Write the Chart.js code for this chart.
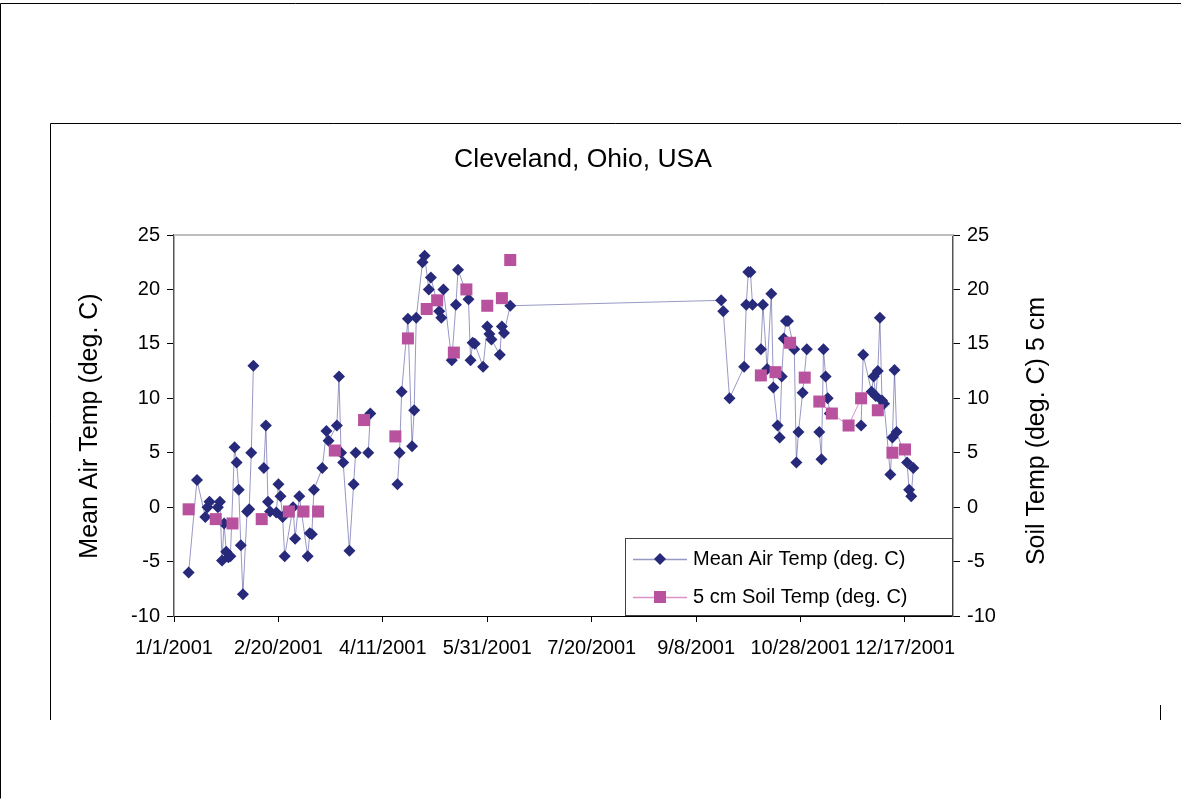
<!DOCTYPE html>
<html>
<head>
<meta charset="utf-8">
<script src="https://cdn.jsdelivr.net/npm/chart.js@4.4.1/dist/chart.umd.min.js"></script>
<style>
  html, body { margin: 0; padding: 0; background: #fff; }
  #wrap { width: 1181px; height: 799px; position: relative; }
  canvas { display: block; }
</style>
</head>
<body>
<div id="wrap"><canvas id="c" width="1181" height="799"></canvas></div>
<script>
// ---- Data (dates in 2001, M/D) ----
const chartTitle = 'Cleveland, Ohio, USA';
const airLabel = 'Mean Air Temp (deg. C)';
const soilLabel = '5 cm Soil Temp (deg. C)';
const leftAxisTitle = 'Mean Air Temp (deg. C)';
const rightAxisTitle = 'Soil Temp (deg. C) 5 cm';

// null = blank cell (line break)
const airDates = [
  '1/8','1/12','1/16','1/17','1/18','1/22','1/23','1/24','1/25','1/26','1/27','1/28',
  '1/30','1/31','2/1','2/2','2/3','2/5','2/6','2/7','2/8','2/10',
  '2/13','2/14','2/15','2/16','2/19','2/20','2/21','2/22','2/23','2/27','2/28','3/2',
  '3/6','3/7','3/8','3/9','3/13','3/15','3/16','3/20','3/21','3/22','3/23','3/26',
  '3/28','3/29','4/1','4/4','4/5','4/10',
  '4/18','4/19','4/20','4/23','4/25','4/26','4/27','4/30','5/1','5/3','5/4','5/8',
  '5/9','5/10','5/14','5/16','5/17','5/22','5/23','5/24','5/25','5/29','5/31','6/1',
  '6/2','6/6','6/7','6/8','6/11',
  '9/20','9/21','9/24','10/1','10/2','10/3','10/4','10/5','10/7',
  '10/9','10/10','10/12','10/14','10/15','10/17','10/18','10/19','10/20','10/21','10/22',
  '10/25','10/26','10/27','10/29','10/31','11/3',
  '11/6','11/7','11/8','11/9','11/10','11/11','11/20',
  '11/26','11/27','12/1','12/2','12/3','12/4','12/5','12/6','12/7','12/10','12/11',
  '12/12','12/13','12/18','12/19','12/20','12/21'
];
const airTemp = [
  -6.0, 2.5, -0.9, 0.0, 0.5, 0.0, 0.5, -4.9, -1.5, -4.1, -4.6, -4.5,
  5.5, 4.1, 1.6, -3.5, -8.0, -0.4, -0.2, 5.0, 13.0, null,
  3.6, 7.5, 0.5, -0.4, -0.5, 2.1, 1.0, -0.9, -4.5, 0.0, -2.9, 1.0,
  -4.5, -2.4, -2.5, 1.6, 3.6, 7.0, 6.1, 7.5, 12.0, 5.0, 4.1, -4.0,
  2.1, 5.0, null, 5.0, 8.6, null,
  2.1, 5.0, 10.6, 17.3, 5.6, 8.9, 17.4, 22.5, 23.1, 20.0, 21.1, 18.0,
  17.4, 20.0, 13.5, 18.6, 21.8, 19.1, 13.5, 15.1, 15.0, 12.9, 16.6, 15.9,
  15.4, 14.0, 16.6, 16.0, 18.5,
  19.0, 18.0, 10.0, 12.9, 18.6, 21.6, 21.6, 18.6, null,
  14.5, 18.6, 12.7, 19.6, 11.0, 7.5, 6.4, 12.0, 15.5, 17.1, 17.1,
  14.5, 4.1, 6.9, 10.5, 14.5, null,
  6.9, 4.4, 14.5, 12.0, 10.0, 8.6, null,
  7.5, 14.0, 10.6, 12.0, 10.2, 12.5, 17.4, 9.8, 9.5, 3.0, 6.4,
  12.6, 6.9, 4.1, 1.6, 1.0, 3.6
];

const soilDates = [
  '1/8','1/14','1/21','1/25','1/29','2/5','2/12','2/20','2/25','3/1','3/4','3/8','3/11',
  '3/15','3/19','3/25','4/2','4/10','4/17','4/20','4/23','4/27','5/2','5/4','5/7','5/10',
  '5/15','5/18','5/21','5/25','5/31','6/4','6/7','6/9','6/11','8/1',
  '10/9','10/12','10/16','10/20','10/23','10/26','10/30','11/3','11/6','11/12','11/20',
  '11/26','12/1','12/4','12/7','12/11','12/14','12/17'
];
const soilTemp = [
  -0.2, null, -1.1, null, -1.5, null, -1.1, null, -0.4, null, -0.4, null, -0.4,
  null, 5.2, null, 8.0, null, 6.5, null, 15.5, null, 18.2, null, 19.0, null,
  14.2, null, 20.0, null, 18.5, null, 19.2, null, 22.7, null,
  12.1, null, 12.4, null, 15.1, null, 11.9, null, 9.7, 8.6, 7.5,
  10.0, null, 8.9, null, 5.0, null, 5.3
];

const xTickDays = [0, 50, 100, 150, 200, 250, 300, 350];
const yTicks = [-10, -5, 0, 5, 10, 15, 20, 25];

// ---- helpers ----
const BASE = Date.UTC(2001, 0, 1);
function dayOf(md) {
  const [m, d] = md.split('/').map(Number);
  return (Date.UTC(2001, m - 1, d) - BASE) / 86400000;
}
function labelOf(day) {
  const dt = new Date(BASE + day * 86400000);
  return (dt.getUTCMonth() + 1) + '/' + dt.getUTCDate() + '/' + dt.getUTCFullYear();
}
const airPoints = airDates.map((d, i) => ({ x: dayOf(d), y: airTemp[i] }));
const soilPoints = soilDates.map((d, i) => ({ x: dayOf(d), y: soilTemp[i] }));

const FONT = '"Liberation Sans", Arial, sans-serif';
const AIR_MARK = '#27297a';
const AIR_LINE = 'rgba(50,50,140,0.5)';
const SOIL_MARK = '#b9529e';
const SOIL_LINE = 'rgba(205,110,185,0.75)';

const decor = {
  id: 'decor',
  beforeDraw(chart) {
    const c = chart.ctx;
    c.save();
    c.fillStyle = '#fff';
    c.fillRect(0, 0, chart.width, chart.height);
    c.strokeStyle = '#000';
    c.lineWidth = 1;
    // outer frame
    c.beginPath();
    c.moveTo(0.5, 798.5); c.lineTo(0.5, 3.5); c.lineTo(1181, 3.5);
    c.stroke();
    // inner chart frame
    c.beginPath();
    c.moveTo(50.5, 720); c.lineTo(50.5, 123.5); c.lineTo(1181, 123.5);
    c.moveTo(1160.5, 705); c.lineTo(1160.5, 720);
    c.stroke();
    c.restore();
  },
  afterDatasetsDraw(chart) {
    const c = chart.ctx;
    const a = chart.chartArea;
    c.save();
    // plot-area top border
    c.strokeStyle = '#bdbdbd';
    c.lineWidth = 2;
    c.beginPath(); c.moveTo(a.left, a.top); c.lineTo(a.right, a.top); c.stroke();
    // titles
    c.fillStyle = '#000';
    c.textAlign = 'center';
    c.textBaseline = 'middle';
    c.font = '26.5px ' + FONT;
    c.fillText(chartTitle, 583, 160);
    c.font = '25px ' + FONT;
    c.save(); c.translate(90, 426); c.rotate(-Math.PI / 2); c.fillText(leftAxisTitle, 0, 0); c.restore();
    c.save(); c.translate(1037, 431); c.rotate(-Math.PI / 2); c.fillText(rightAxisTitle, 0, 0); c.restore();
    // legend box
    const L = 625.5, T = 538.5, R = 952.5, B = 615.5;
    c.fillStyle = '#fff';
    c.fillRect(L, T, R - L, B - T);
    c.strokeStyle = '#404040'; c.lineWidth = 1;
    c.strokeRect(L, T, R - L, B - T);
    c.font = '20px ' + FONT;
    c.textAlign = 'left';
    c.fillStyle = '#000';
    const rows = [
      { y: 559, line: AIR_LINE, mark: AIR_MARK, style: 'rectRot', r: 6, text: airLabel },
      { y: 597, line: SOIL_LINE, mark: SOIL_MARK, style: 'rect', r: 8.5, text: soilLabel }
    ];
    rows.forEach(row => {
      c.strokeStyle = row.line; c.lineWidth = 1.5;
      c.beginPath(); c.moveTo(633, row.y + 0.5); c.lineTo(687, row.y + 0.5); c.stroke();
      c.fillStyle = row.mark;
      Chart.helpers.drawPoint(c, { pointStyle: row.style, radius: row.r, borderWidth: 0, rotation: 0 }, 660, row.y);
      c.fillStyle = '#000';
      c.fillText(row.text, 693, row.y);
    });
    c.restore();
  }
};

const tickFont = { family: FONT, size: 20 };

new Chart(document.getElementById('c'), {
  type: 'line',
  data: {
    datasets: [
      {
        label: airLabel, data: airPoints, yAxisID: 'y',
        borderColor: AIR_LINE, borderWidth: 1, tension: 0, spanGaps: false,
        pointStyle: 'rectRot', pointRadius: 6, pointBackgroundColor: AIR_MARK,
        pointBorderColor: AIR_MARK, pointBorderWidth: 0, order: 2
      },
      {
        label: soilLabel, data: soilPoints, yAxisID: 'y2',
        borderColor: SOIL_LINE, borderWidth: 1, tension: 0, spanGaps: false,
        pointStyle: 'rect', pointRadius: 8.5, pointBackgroundColor: SOIL_MARK,
        pointBorderColor: SOIL_MARK, pointBorderWidth: 0, order: 1
      }
    ]
  },
  options: {
    responsive: false, animation: false, events: [],
    layout: { padding: { top: 235, left: 0, right: 0, bottom: 0 } },
    plugins: { legend: { display: false }, title: { display: false }, tooltip: { enabled: false } },
    scales: {
      x: {
        type: 'linear', min: 0, max: 373,
        afterBuildTicks: s => { s.ticks = xTickDays.map(v => ({ value: v })); },
        afterFit: s => { s.height = 799 - 616; },
        ticks: { callback: v => labelOf(v), font: tickFont, color: '#000', maxRotation: 0, autoSkip: false, padding: 14 },
        grid: { drawOnChartArea: false, drawTicks: true, tickLength: 6, color: '#000' },
        border: { color: '#000', width: 1 }
      },
      y: {
        position: 'left', min: -10, max: 25,
        afterBuildTicks: s => { s.ticks = yTicks.map(v => ({ value: v })); },
        afterFit: s => { s.width = 174; },
        ticks: { font: tickFont, color: '#000', padding: 7 },
        grid: { drawOnChartArea: false, tickLength: 7, color: '#000' },
        border: { color: '#555', width: 1.5 }
      },
      y2: {
        position: 'right', min: -10, max: 25,
        afterBuildTicks: s => { s.ticks = yTicks.map(v => ({ value: v })); },
        afterFit: s => { s.width = 1181 - 953; },
        ticks: { font: tickFont, color: '#000', padding: 7 },
        grid: { drawOnChartArea: false, tickLength: 7, color: '#000' },
        border: { color: '#555', width: 1.5 }
      }
    }
  },
  plugins: [decor]
});
</script>
</body>
</html>
